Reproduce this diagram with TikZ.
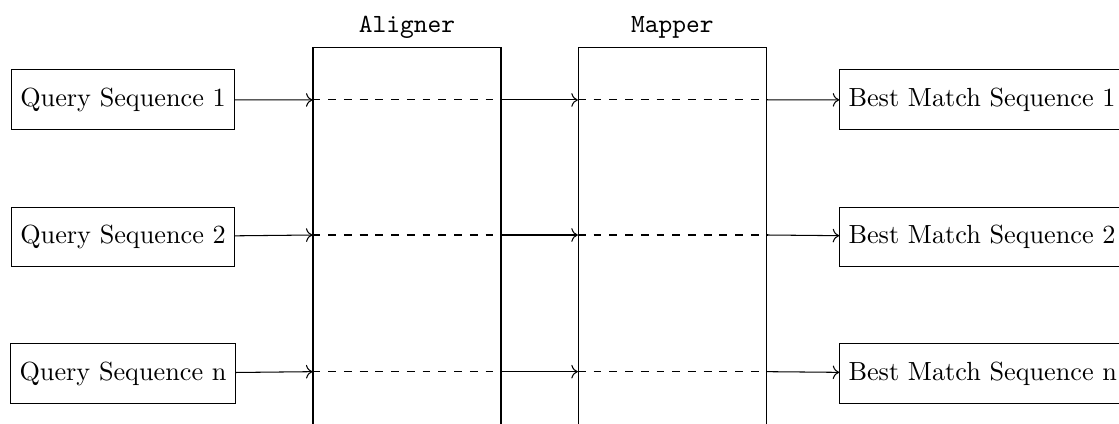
\documentclass[tikz,border=0pt]{standalone}
\usepackage{tikz}
\usetikzlibrary{arrows.meta}
\tikzset{seqbox/.style={draw, minimum height=0.8cm},
  stagebox/.style={draw, minimum width=2.52cm, minimum height=6cm, anchor=north}}

\begin{document}
\begin{tikzpicture}
\useasboundingbox (0,0) rectangle (15,-5.675);
\node[seqbox] (Q1) at (1.649,-1.336) {Query Sequence 1};
\node[seqbox] (Q2) at (1.649,-3.177) {Query Sequence 2};
\node[seqbox] (Qn) at (1.649,-5.009) {Query Sequence n};

\node[stagebox] (aligner) at (5.456,-0.634) {};
\node[stagebox] (mapper) at (9.013,-0.634) {};
\node[above] (aligner-label) at (aligner.north) {\ttfamily Aligner};
\node[above] (mapper-label) at (mapper.north) {\ttfamily Mapper};

\node[seqbox,anchor=west] (B1) at (11.25,-1.336) {Best Match Sequence 1};
\node[seqbox,anchor=west] (B2) at (11.25,-3.177) {Best Match Sequence 2};
\node[seqbox,anchor=west] (Bn) at (11.25,-5.009) {Best Match Sequence n};

% where the rows cross the two stages
\coordinate (A1-in) at (aligner.west |- 0,-1.34);
\coordinate (A1-out) at (aligner.east |- 0,-1.34);
\coordinate (M1-in) at (mapper.west |- 0,-1.34);
\coordinate (M1-out) at (mapper.east |- 0,-1.34);
\coordinate (A2-in) at (aligner.west |- 0,-3.15);
\coordinate (A2-out) at (aligner.east |- 0,-3.15);
\coordinate (M2-in) at (mapper.west |- 0,-3.15);
\coordinate (M2-out) at (mapper.east |- 0,-3.15);
\coordinate (An-in) at (aligner.west |- 0,-4.982);
\coordinate (An-out) at (aligner.east |- 0,-4.982);
\coordinate (Mn-in) at (mapper.west |- 0,-4.982);
\coordinate (Mn-out) at (mapper.east |- 0,-4.982);

\path[->] (Q1) edge (A1-in);
\draw[dashed] (A1-in) -- (A1-out);
\path[->] (A1-out) edge (M1-in);
\draw[dashed] (M1-in) -- (M1-out);
\path[->] (M1-out) edge (B1);

\path[->] (Q2) edge (A2-in);
\draw[dashed] (A2-in) -- (A2-out);
\path[->] (A2-out) edge (M2-in);
\draw[dashed] (M2-in) -- (M2-out);
\path[->] (M2-out) edge (B2);

\path[->] (Qn) edge (An-in);
\draw[dashed] (An-in) -- (An-out);
\path[->] (An-out) edge (Mn-in);
\draw[dashed] (Mn-in) -- (Mn-out);
\path[->] (Mn-out) edge (Bn);
\end{tikzpicture}
\end{document}
